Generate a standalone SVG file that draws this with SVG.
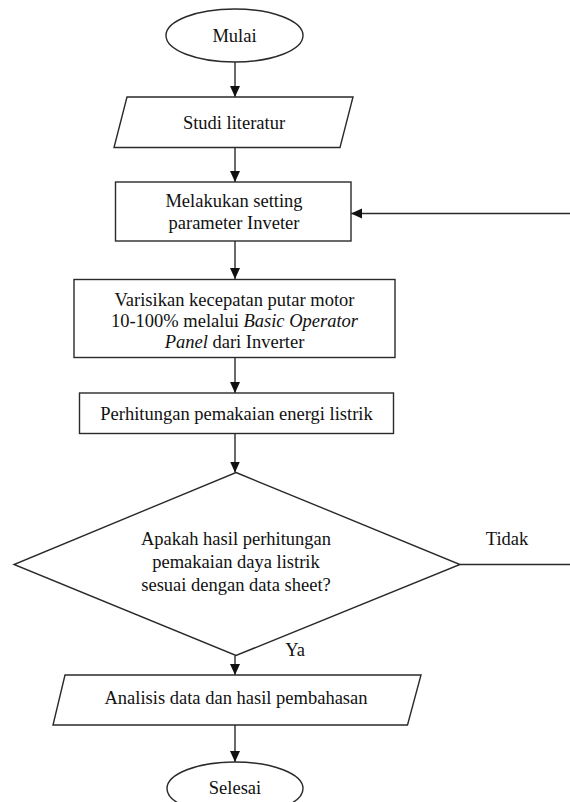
<svg xmlns="http://www.w3.org/2000/svg" width="570" height="802" viewBox="0 0 570 802">
<defs>
<style>
.s{fill:#fff;stroke:#2a2a2a;stroke-width:1.4}
.t{font-family:"Liberation Serif","Times New Roman",serif;font-size:18.5px;fill:#111;text-anchor:middle}
.c{fill:none;stroke:#2a2a2a;stroke-width:1.4}
</style>
<marker id="ah" markerUnits="userSpaceOnUse" markerWidth="12" markerHeight="12" viewBox="0 0 12 12" refX="11" refY="6" orient="auto">
<path d="M0,1 L11,6 L0,11 Z" fill="#111"/>
</marker>
</defs>
<rect width="570" height="802" fill="#fff"/>
<g id="connectors">
<path class="c" d="M235,62 V97" marker-end="url(#ah)"/>
<path class="c" d="M235,147.5 V182" marker-end="url(#ah)"/>
<path class="c" d="M235,241 V279" marker-end="url(#ah)"/>
<path class="c" d="M235,357 V393" marker-end="url(#ah)"/>
<path class="c" d="M235,433 V472.5" marker-end="url(#ah)"/>
<path class="c" d="M235,655.5 V675" marker-end="url(#ah)"/>
<path class="c" d="M235,725 V762" marker-end="url(#ah)"/>
<path class="c" d="M460,564.5 H573 V213.5 H351" marker-end="url(#ah)"/>
<text class="t" x="507" y="545">Tidak</text>
<text class="t" x="295" y="656">Ya</text>
</g>
<g id="mulai">
<ellipse class="s" cx="234.5" cy="35.5" rx="68.5" ry="26.5"/>
<text class="t" x="234.5" y="41.5">Mulai</text>
</g>
<g id="studi">
<polygon class="s" points="127,97 353,97 340,147.5 114,147.5"/>
<text class="t" x="234" y="128.5">Studi literatur</text>
</g>
<g id="setting">
<rect class="s" x="115.5" y="182" width="235.5" height="59"/>
<text class="t" x="234" y="206.5">Melakukan setting</text>
<text class="t" x="234" y="229">parameter Inveter</text>
</g>
<g id="varisikan">
<rect class="s" x="74" y="279.5" width="321" height="78"/>
<text class="t" x="234.5" y="306">Varisikan kecepatan putar motor</text>
<text class="t" x="234.5" y="327">10-100% melalui <tspan font-style="italic">Basic Operator</tspan></text>
<text class="t" x="234.5" y="347.5"><tspan font-style="italic">Panel</tspan> dari Inverter</text>
</g>
<g id="perhitungan">
<rect class="s" x="79.5" y="393" width="314" height="40.5"/>
<text class="t" x="236.5" y="420">Perhitungan pemakaian energi listrik</text>
</g>
<g id="keputusan">
<polygon class="s" points="236,472.5 460,564.5 236,655.5 14,564.5"/>
<text class="t" x="236" y="545">Apakah hasil perhitungan</text>
<text class="t" x="236" y="568">pemakaian daya listrik</text>
<text class="t" x="236" y="591">sesuai dengan data sheet?</text>
</g>
<g id="analisis">
<polygon class="s" points="65,675 421,675 407.5,725 53,725"/>
<text class="t" x="236" y="704">Analisis data dan hasil pembahasan</text>
</g>
<g id="selesai">
<ellipse class="s" cx="235" cy="788.5" rx="68" ry="26.5"/>
<text class="t" x="235" y="793.5">Selesai</text>
</g>
</svg>
